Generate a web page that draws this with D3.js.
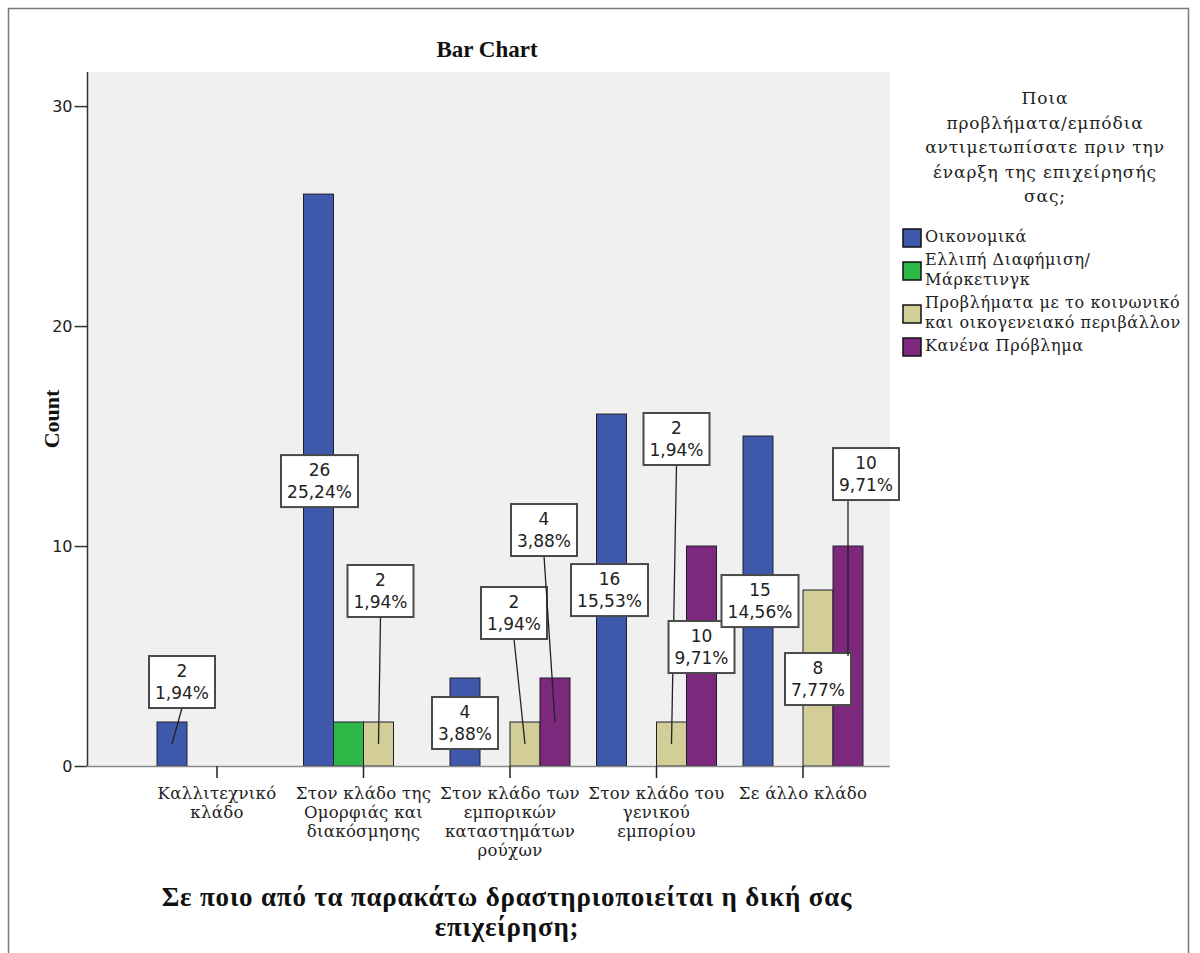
<!DOCTYPE html>
<html>
<head>
<meta charset="utf-8">
<script src="https://cdn.jsdelivr.net/npm/d3@7"></script>
<style>
html,body{margin:0;padding:0;background:#fff;}
svg{display:block;}
</style>
</head>
<body>
<svg id="chart" width="1200" height="953"></svg>
<script>
// ---------- DATA ----------
const categories = [
  ["Καλλιτεχνικό", "κλάδο"],
  ["Στον κλάδο της", "Ομορφιάς και", "διακόσμησης"],
  ["Στον κλάδο των", "εμπορικών", "καταστημάτων", "ρούχων"],
  ["Στον κλάδο του", "γενικού", "εμπορίου"],
  ["Σε άλλο κλάδο"]
];
const seriesNames = [
  ["Οικονομικά"],
  ["Ελλιπή Διαφήμιση/", "Μάρκετινγκ"],
  ["Προβλήματα με το κοινωνικό", "και οικογενειακό περιβάλλον"],
  ["Κανένα Πρόβλημα"]
];
const oikonomika   = [2, 26, 4, 16, 15];
const diafimisi    = [0, 2, 0, 0, 0];
const koinoniko    = [0, 2, 2, 2, 8];
const kanena       = [0, 0, 4, 10, 10];
const seriesValues = [oikonomika, diafimisi, koinoniko, kanena];
const percentLabels = [
  ["1,94%", "25,24%", "3,88%", "15,53%", "14,56%"],
  ["", "1,94%", "", "", ""],
  ["", "1,94%", "1,94%", "1,94%", "7,77%"],
  ["", "", "3,88%", "9,71%", "9,71%"]
];
const yTicks = [0, 10, 20, 30];
const chartTitle = "Bar Chart";
const yTitle = "Count";
const xTitle = ["Σε ποιο από τα παρακάτω δραστηριοποιείται η δική σας", "επιχείρηση;"];
const legendTitle = ["Ποια", "προβλήματα/εμπόδια", "αντιμετωπίσατε πριν την", "έναρξη της επιχείρησής", "σας;"];

// ---------- LAYOUT / STYLE ----------
const colors = ["#3e58ac", "#2eb848", "#d3ce97", "#7c287d"];
const serif = "Liberation Serif";
const wideSerif = "DejaVu Serif";
// label box placement: [category, series, dx from bar centre, dy from bar top, leader start dx or null]
const labelLayout = [
  [0, 0, 10, -40, 0],
  [1, 0, 1, 287, null],
  [1, 2, 2, -131, 0],
  [2, 0, 0, 45, null],
  [2, 2, -11, -109, 0],
  [2, 3, -11, -148, 0],
  [3, 0, -2, 176, null],
  [3, 2, 5, -283, 0],
  [3, 3, 0, 101, null],
  [4, 0, 2, 165, null],
  [4, 2, 0, 89, null],
  [4, 3, 18, -72, -18]
];

const svg = d3.select("#chart");
const plot = {left: 88, right: 890, top: 72, bottom: 766};

// frame
svg.append("rect").attr("x", 8.5).attr("y", 8.5).attr("width", 1180).attr("height", 960)
  .attr("fill", "#fff").attr("stroke", "#7a7a7a").attr("stroke-width", 1.5);

// plot background
svg.append("rect").attr("x", plot.left).attr("y", plot.top)
  .attr("width", plot.right - plot.left).attr("height", plot.bottom - plot.top)
  .attr("fill", "#f0f0f0");

const x0 = d3.scaleBand().domain(d3.range(categories.length))
  .range([143.75, 876.25]).padding(0);
const x1 = d3.scaleBand().domain(d3.range(seriesValues.length))
  .range([x0.bandwidth() / 2 - 60, x0.bandwidth() / 2 + 60]).padding(0);
const y = d3.scaleLinear().domain([0, 31.55]).range([plot.bottom, plot.top]);

// bars
const barData = [];
seriesValues.forEach((vals, s) => vals.forEach((v, c) => barData.push({c, s, v})));
svg.append("g").selectAll("rect").data(barData.filter(d => d.v > 0)).join("rect")
  .attr("x", d => x0(d.c) + x1(d.s))
  .attr("y", d => y(d.v))
  .attr("width", x1.bandwidth())
  .attr("height", d => y(0) - y(d.v))
  .attr("fill", d => colors[d.s])
  .attr("stroke", "#1e1e2a").attr("stroke-width", 1);

// y axis
const yAxis = d3.axisLeft(y).tickValues(yTicks).tickSize(13).tickSizeOuter(0).tickPadding(2);
const gy = svg.append("g").attr("transform", `translate(${plot.left - 0.5},0)`).call(yAxis);
gy.select(".domain").remove();
gy.append("line").attr("x1", 0).attr("x2", 0).attr("y1", plot.top).attr("y2", plot.bottom)
  .attr("stroke", "#333").attr("stroke-width", 1.5);
gy.selectAll(".tick line").attr("stroke", "#333").attr("stroke-width", 1.5);
gy.selectAll(".tick text").attr("font-family", "DejaVu Sans").attr("font-size", 16).attr("fill", "#222");

// x axis
svg.append("line").attr("x1", plot.left).attr("x2", plot.right)
  .attr("y1", plot.bottom + 0.5).attr("y2", plot.bottom + 0.5)
  .attr("stroke", "#8a8a8a").attr("stroke-width", 1.5);
const xAxis = d3.axisBottom(x0).tickSize(12).tickSizeOuter(0).tickFormat("");
const gx = svg.append("g").attr("transform", `translate(0,${plot.bottom})`).call(xAxis);
gx.select(".domain").remove();
gx.selectAll(".tick line").attr("stroke", "#222").attr("stroke-width", 1.5);
gx.selectAll(".tick").each(function(c) {
  const t = d3.select(this).append("text").attr("text-anchor", "middle")
    .attr("font-family", wideSerif).attr("font-size", 16.5).attr("letter-spacing", 0.3).attr("fill", "#222");
  categories[c].forEach((line, i) => {
    t.append("tspan").attr("x", 0).attr("y", 33 + i * 19).text(line);
  });
});

// labels
const lbl = svg.append("g");
labelLayout.forEach(([c, s, dx, dy, ldx]) => {
  const v = seriesValues[s][c];
  const bx = x0(c) + x1(s) + x1.bandwidth() / 2;
  const by = y(v);
  const cx = bx + dx, cy = by + dy;
  const pct = percentLabels[s][c];
  const w = pct.length > 5 ? 77 : 66, h = 52;
  if (ldx !== null) {
    lbl.append("line").attr("x1", cx + ldx).attr("y1", cy + h / 2)
      .attr("x2", bx).attr("y2", y(v / 2)).attr("stroke", "#222").attr("stroke-width", 1.3);
  }
  lbl.append("rect").attr("x", cx - w / 2).attr("y", cy - h / 2).attr("width", w).attr("height", h)
    .attr("fill", "#fff").attr("stroke", "#4a4a4a").attr("stroke-width", 2);
  const t = lbl.append("text").attr("text-anchor", "middle")
    .attr("font-family", "DejaVu Sans").attr("font-size", 17).attr("fill", "#222");
  t.append("tspan").attr("x", cx).attr("y", cy - 5).text(v);
  t.append("tspan").attr("x", cx).attr("y", cy + 17).text(pct);
});

// titles
svg.append("text").attr("x", 487).attr("y", 57).attr("text-anchor", "middle")
  .attr("font-family", serif).attr("font-weight", "bold").attr("font-size", 23)
  .attr("fill", "#111").text(chartTitle);
svg.append("text").attr("transform", "translate(59,419) rotate(-90)").attr("text-anchor", "middle")
  .attr("font-family", serif).attr("font-weight", "bold").attr("font-size", 22)
  .attr("fill", "#111").text(yTitle);
const xt = svg.append("text").attr("text-anchor", "middle")
  .attr("font-family", serif).attr("font-weight", "bold").attr("font-size", 27)
  .attr("letter-spacing", 0.8).attr("fill", "#111");
xTitle.forEach((line, i) => xt.append("tspan").attr("x", 507).attr("y", 906 + i * 30).text(line));

// legend
const lg = svg.append("g");
const lt = lg.append("text").attr("text-anchor", "middle")
  .attr("font-family", wideSerif).attr("font-size", 17).attr("letter-spacing", 0.9).attr("fill", "#222");
legendTitle.forEach((line, i) => lt.append("tspan").attr("x", 1045).attr("y", 104 + i * 24.5).text(line));
let ly = 228;
seriesNames.forEach((lines, s) => {
  const hgt = lines.length * 20;
  lg.append("rect").attr("x", 903).attr("y", ly + hgt / 2 - 9).attr("width", 18).attr("height", 18)
    .attr("fill", colors[s]).attr("stroke", "#111").attr("stroke-width", 1.5);
  const t = lg.append("text").attr("font-family", wideSerif).attr("font-size", 16)
    .attr("letter-spacing", 0.6).attr("fill", "#222");
  lines.forEach((line, i) => t.append("tspan").attr("x", 925).attr("y", ly + 14 + i * 20).text(line));
  ly += hgt + 3;
});
</script>
</body>
</html>
